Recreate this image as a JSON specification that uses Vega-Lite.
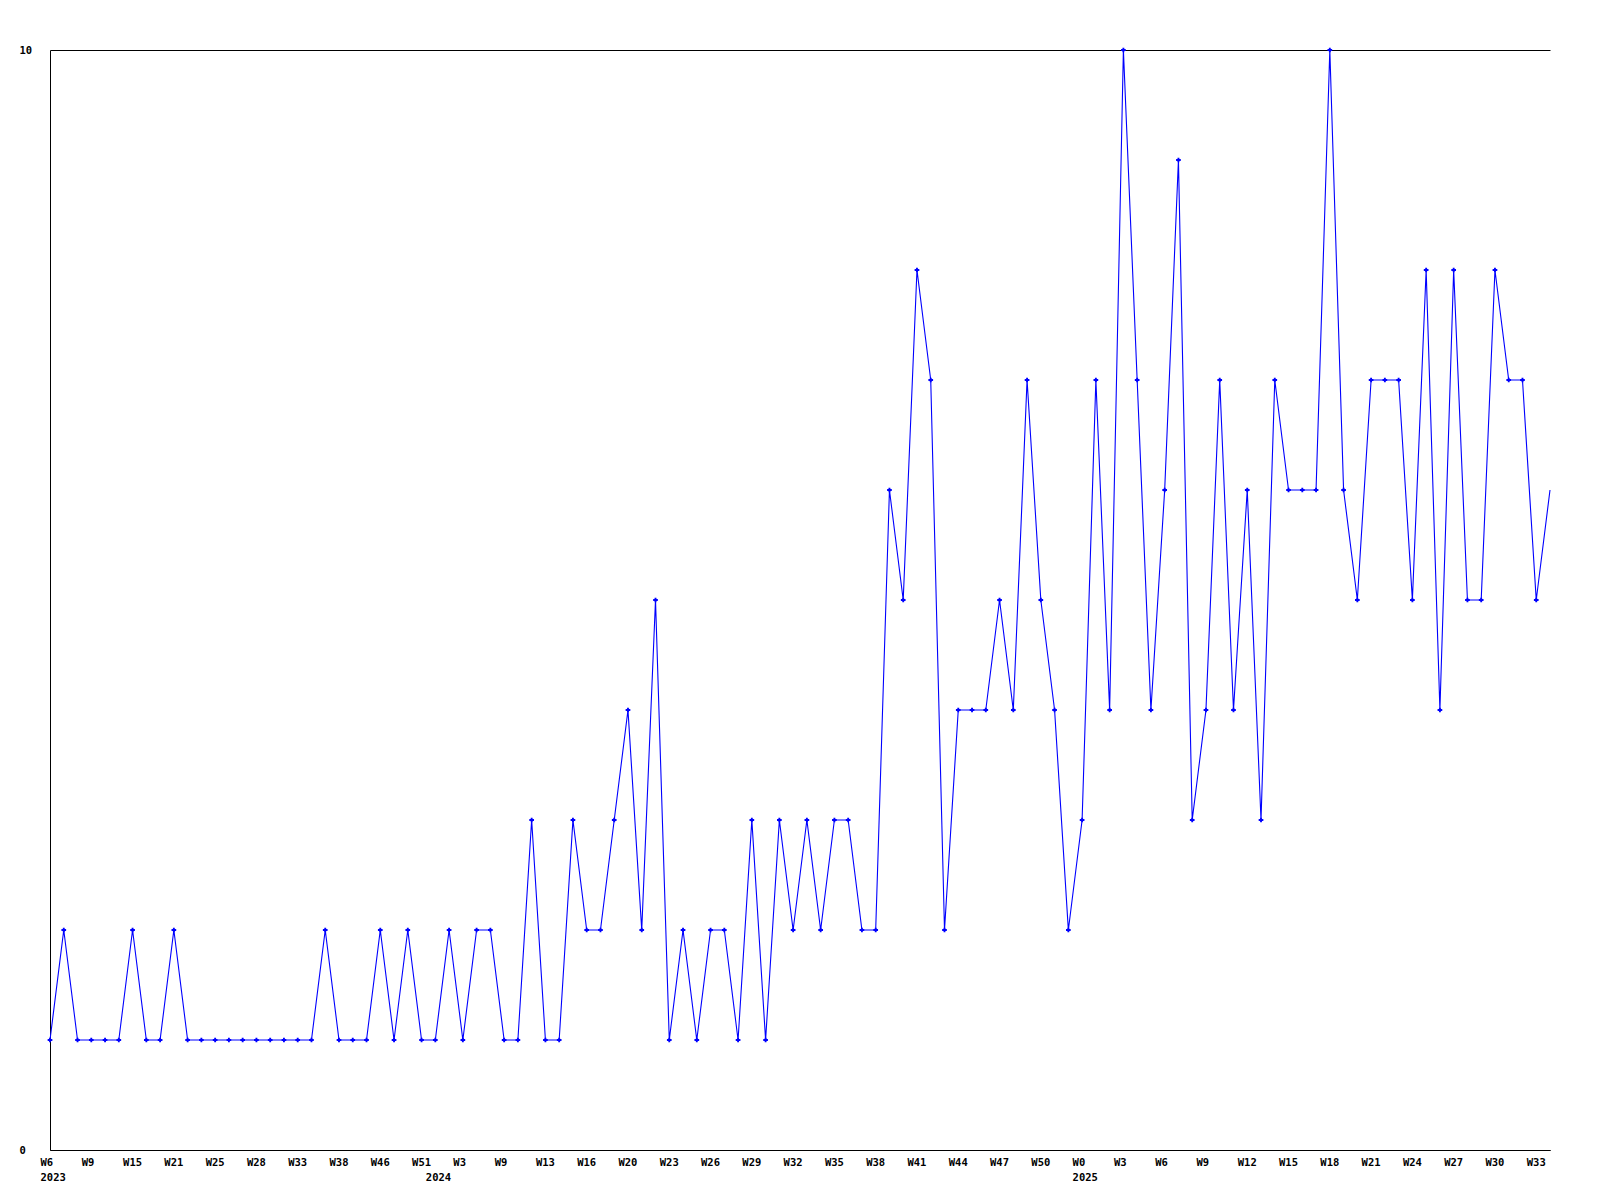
{
  "$schema": "https://vega.github.io/schema/vega-lite/v6.json",
  "width": 1500,
  "height": 1100,
  "autosize": {"type": "none"},
  "padding": {"left": 50, "top": 50, "right": 50, "bottom": 50},
  "background": "white",
  "config": {"view": {"stroke": null}},
  "data": {"values": [
    {"week": "2023 W6", "n": 1}, {"week": "2023 W7", "n": 2}, {"week": "2023 W8", "n": 1}, {"week": "2023 W9", "n": 1},
    {"week": "2023 W11", "n": 1}, {"week": "2023 W13", "n": 1}, {"week": "2023 W15", "n": 2}, {"week": "2023 W17", "n": 1},
    {"week": "2023 W19", "n": 1}, {"week": "2023 W21", "n": 2}, {"week": "2023 W22", "n": 1}, {"week": "2023 W24", "n": 1},
    {"week": "2023 W25", "n": 1}, {"week": "2023 W26", "n": 1}, {"week": "2023 W27", "n": 1}, {"week": "2023 W28", "n": 1},
    {"week": "2023 W30", "n": 1}, {"week": "2023 W32", "n": 1}, {"week": "2023 W33", "n": 1}, {"week": "2023 W35", "n": 1},
    {"week": "2023 W37", "n": 2}, {"week": "2023 W38", "n": 1}, {"week": "2023 W41", "n": 1}, {"week": "2023 W44", "n": 1},
    {"week": "2023 W46", "n": 2}, {"week": "2023 W48", "n": 1}, {"week": "2023 W50", "n": 2}, {"week": "2023 W51", "n": 1},
    {"week": "2024 W1", "n": 1}, {"week": "2024 W2", "n": 2}, {"week": "2024 W3", "n": 1}, {"week": "2024 W5", "n": 2},
    {"week": "2024 W7", "n": 2}, {"week": "2024 W9", "n": 1}, {"week": "2024 W11", "n": 1}, {"week": "2024 W12", "n": 3},
    {"week": "2024 W13", "n": 1}, {"week": "2024 W14", "n": 1}, {"week": "2024 W15", "n": 3}, {"week": "2024 W16", "n": 2},
    {"week": "2024 W18", "n": 2}, {"week": "2024 W19", "n": 3}, {"week": "2024 W20", "n": 4}, {"week": "2024 W21", "n": 2},
    {"week": "2024 W22", "n": 5}, {"week": "2024 W23", "n": 1}, {"week": "2024 W24", "n": 2}, {"week": "2024 W25", "n": 1},
    {"week": "2024 W26", "n": 2}, {"week": "2024 W27", "n": 2}, {"week": "2024 W28", "n": 1}, {"week": "2024 W29", "n": 3},
    {"week": "2024 W30", "n": 1}, {"week": "2024 W31", "n": 3}, {"week": "2024 W32", "n": 2}, {"week": "2024 W33", "n": 3},
    {"week": "2024 W34", "n": 2}, {"week": "2024 W35", "n": 3}, {"week": "2024 W36", "n": 3}, {"week": "2024 W37", "n": 2},
    {"week": "2024 W38", "n": 2}, {"week": "2024 W39", "n": 6}, {"week": "2024 W40", "n": 5}, {"week": "2024 W41", "n": 8},
    {"week": "2024 W42", "n": 7}, {"week": "2024 W43", "n": 2}, {"week": "2024 W44", "n": 4}, {"week": "2024 W45", "n": 4},
    {"week": "2024 W46", "n": 4}, {"week": "2024 W47", "n": 5}, {"week": "2024 W48", "n": 4}, {"week": "2024 W49", "n": 7},
    {"week": "2024 W50", "n": 5}, {"week": "2024 W51", "n": 4}, {"week": "2024 W52", "n": 2}, {"week": "2025 W0", "n": 3},
    {"week": "2025 W1", "n": 7}, {"week": "2025 W2", "n": 4}, {"week": "2025 W3", "n": 10}, {"week": "2025 W4", "n": 7},
    {"week": "2025 W5", "n": 4}, {"week": "2025 W6", "n": 6}, {"week": "2025 W7", "n": 9}, {"week": "2025 W8", "n": 3},
    {"week": "2025 W9", "n": 4}, {"week": "2025 W10", "n": 7}, {"week": "2025 W11", "n": 4}, {"week": "2025 W12", "n": 6},
    {"week": "2025 W13", "n": 3}, {"week": "2025 W14", "n": 7}, {"week": "2025 W15", "n": 6}, {"week": "2025 W16", "n": 6},
    {"week": "2025 W17", "n": 6}, {"week": "2025 W18", "n": 10}, {"week": "2025 W19", "n": 6}, {"week": "2025 W20", "n": 5},
    {"week": "2025 W21", "n": 7}, {"week": "2025 W22", "n": 7}, {"week": "2025 W23", "n": 7}, {"week": "2025 W24", "n": 5},
    {"week": "2025 W25", "n": 8}, {"week": "2025 W26", "n": 4}, {"week": "2025 W27", "n": 8}, {"week": "2025 W28", "n": 5},
    {"week": "2025 W29", "n": 5}, {"week": "2025 W30", "n": 8}, {"week": "2025 W31", "n": 7}, {"week": "2025 W32", "n": 7},
    {"week": "2025 W33", "n": 5}, {"week": "2025 W34", "n": 6}
  ]},
  "encoding": {
    "x": {
      "field": "week",
      "type": "nominal",
      "sort": null,
      "scale": {"type": "point", "padding": 0},
      "axis": {
        "title": null,
        "values": ["2023 W6", "2023 W9", "2023 W15", "2023 W21", "2023 W25", "2023 W28", "2023 W33", "2023 W38", "2023 W46", "2023 W51",
                   "2024 W1", "2024 W3", "2024 W9", "2024 W13", "2024 W16", "2024 W20", "2024 W23", "2024 W26", "2024 W29", "2024 W32", "2024 W35",
                   "2024 W38", "2024 W41", "2024 W44", "2024 W47", "2024 W50", "2025 W0", "2025 W3", "2025 W6", "2025 W9", "2025 W12",
                   "2025 W15", "2025 W18", "2025 W21", "2025 W24", "2025 W27", "2025 W30", "2025 W33"],
        "labelExpr": "datum.value == '2024 W1' ? ['', '2024'] : (indexof(['2023 W6', '2025 W0'], datum.value) >= 0 ? [split(datum.value, ' ')[1], split(datum.value, ' ')[0]] : split(datum.value, ' ')[1])",
        "labelAngle": 0,
        "labelAlign": "left",
        "labelBaseline": "top",
        "labelOffset": -10,
        "labelPadding": 7,
        "labelLineHeight": 15,
        "labelOverlap": false,
        "labelBound": false,
        "labelFont": "DejaVu Sans Mono",
        "labelFontWeight": "bold",
        "labelFontSize": 10.5,
        "labelColor": "black",
        "ticks": false,
        "tickSize": 0,
        "grid": false,
        "domainColor": "black",
        "domainWidth": 1
      }
    },
    "y": {
      "field": "n",
      "type": "quantitative",
      "scale": {"domain": [0, 10], "nice": false},
      "axis": {
        "title": null,
        "values": [0, 10],
        "labelAlign": "left",
        "labelPadding": 31,
        "labelFont": "DejaVu Sans Mono",
        "labelFontWeight": "bold",
        "labelFontSize": 10.5,
        "labelColor": "black",
        "ticks": false,
        "tickSize": 0,
        "grid": true,
        "gridColor": "black",
        "gridOpacity": 1,
        "gridWidth": 1,
        "domainColor": "black",
        "domainWidth": 1
      }
    }
  },
  "layer": [
    {"mark": {"type": "line", "color": "#0000ff", "strokeWidth": 1.1}},
    {
      "transform": [{"filter": "datum.week != '2025 W34'"}],
      "mark": {"type": "point", "shape": "cross", "filled": true, "size": 22, "color": "#0000ff", "opacity": 1}
    }
  ]
}
